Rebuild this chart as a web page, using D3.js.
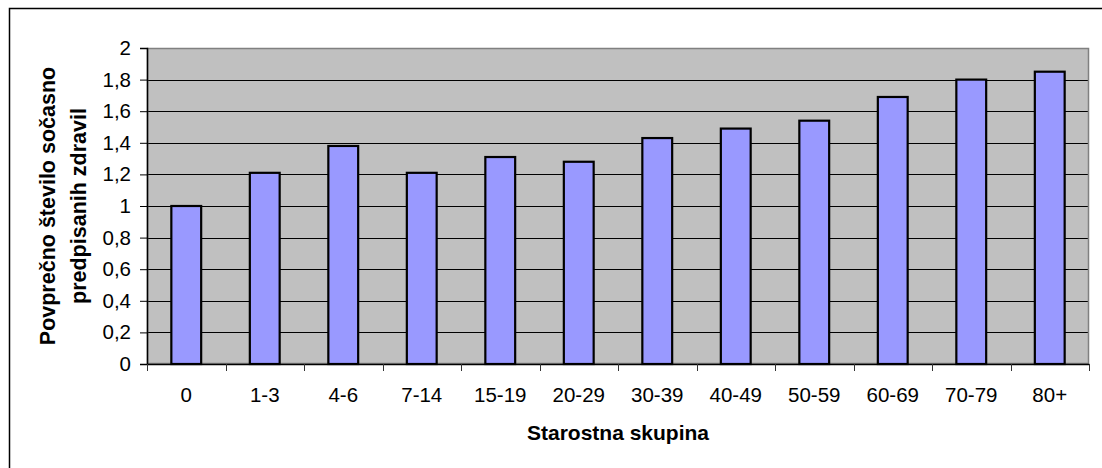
<!DOCTYPE html>
<html>
<head>
<meta charset="utf-8">
<script src="https://cdn.jsdelivr.net/npm/d3@7"></script>
<style>
  html, body { margin: 0; padding: 0; background: #fff; }
  svg { display: block; }
  text { font-family: "Liberation Sans", Arial, sans-serif; fill: #000; }
</style>
</head>
<body>
<svg id="chart" width="1102" height="468"></svg>
<script>
const categories = ["0", "1-3", "4-6", "7-14", "15-19", "20-29", "30-39", "40-49", "50-59", "60-69", "70-79", "80+"];
const values = [1.00, 1.21, 1.38, 1.21, 1.31, 1.28, 1.43, 1.49, 1.54, 1.69, 1.80, 1.85];
const yTicks = [0, 0.2, 0.4, 0.6, 0.8, 1, 1.2, 1.4, 1.6, 1.8, 2];
const yTitleLines = ["Povprečno število sočasno", "predpisanih zdravil"];
const xTitle = "Starostna skupina";

const svg = d3.select("#chart");
const plot = { left: 147, top: 48, right: 1089, bottom: 364 };

// outer frame
svg.append("rect")
  .attr("x", 9.5).attr("y", 8.5)
  .attr("width", 1100).attr("height", 470)
  .attr("fill", "#fff").attr("stroke", "#000").attr("stroke-width", 1.5);

const x = d3.scaleBand()
  .domain(categories)
  .range([plot.left, plot.right])
  .paddingInner(0.62)
  .paddingOuter(0.31);

const y = d3.scaleLinear().domain([0, 2]).range([plot.bottom, plot.top]);

// plot area background
svg.append("rect")
  .attr("x", plot.left).attr("y", plot.top)
  .attr("width", plot.right - plot.left).attr("height", plot.bottom - plot.top)
  .attr("fill", "#C0C0C0");

// gridlines
svg.append("g")
  .selectAll("line")
  .data(yTicks.filter(d => d > 0 && d < 2))
  .join("line")
  .attr("x1", plot.left).attr("x2", plot.right)
  .attr("y1", d => Math.round(y(d)) + 0.5).attr("y2", d => Math.round(y(d)) + 0.5)
  .attr("stroke", "#000").attr("stroke-width", 1);

// plot border (gray)
svg.append("rect")
  .attr("x", plot.left + 0.5).attr("y", plot.top + 0.5)
  .attr("width", plot.right - plot.left - 1).attr("height", plot.bottom - plot.top - 1)
  .attr("fill", "none").attr("stroke", "#808080").attr("stroke-width", 1.5);

// bars
svg.append("g")
  .selectAll("rect")
  .data(values)
  .join("rect")
  .attr("x", (d, i) => x(categories[i]))
  .attr("y", d => y(d))
  .attr("width", x.bandwidth())
  .attr("height", d => y(0) - y(d))
  .attr("fill", "#9999FF")
  .attr("stroke", "#000")
  .attr("stroke-width", 2.2);

// Y axis
const yAxis = d3.axisLeft(y)
  .tickValues(yTicks)
  .tickSize(7)
  .tickPadding(9)
  .tickFormat(d => String(d).replace(".", ","));
const gy = svg.append("g").attr("transform", `translate(${plot.left},0)`).call(yAxis);
gy.select(".domain").attr("stroke", "#000").attr("stroke-width", 1.5);
gy.selectAll(".tick line").attr("stroke", "#000");
gy.selectAll(".tick text")
  .style("font-family", '"Liberation Sans", Arial, sans-serif')
  .style("font-size", "20.5px").attr("fill", "#000");

// X axis
const xAxis = d3.axisBottom(x).tickSize(0).tickPadding(23);
const gx = svg.append("g").attr("transform", `translate(0,${plot.bottom})`).call(xAxis);
gx.select(".domain").attr("stroke", "#000").attr("stroke-width", 1.5);
gx.selectAll(".tick text")
  .style("font-family", '"Liberation Sans", Arial, sans-serif')
  .style("font-size", "20.5px").attr("fill", "#000");

// X tick marks at category boundaries
const boundaries = d3.range(categories.length + 1).map(i => plot.left + i * x.step());
svg.append("g")
  .selectAll("line")
  .data(boundaries)
  .join("line")
  .attr("x1", d => Math.round(d) + 0.5).attr("x2", d => Math.round(d) + 0.5)
  .attr("y1", plot.bottom).attr("y2", plot.bottom + 7)
  .attr("stroke", "#333").attr("stroke-width", 1);

// X title
svg.append("text")
  .attr("x", (plot.left + plot.right) / 2)
  .attr("y", 440)
  .attr("text-anchor", "middle")
  .style("font-size", "21px")
  .style("font-weight", "bold")
  .text(xTitle);

// Y title
const yt = svg.append("text")
  .attr("transform", `translate(55,${(plot.top + plot.bottom) / 2}) rotate(-90)`)
  .attr("text-anchor", "middle")
  .style("font-size", "21.5px")
  .style("font-weight", "bold");
yt.selectAll("tspan")
  .data(yTitleLines)
  .join("tspan")
  .attr("x", 0)
  .attr("dy", (d, i) => i === 0 ? 0 : 31)
  .text(d => d);
</script>
</body>
</html>
